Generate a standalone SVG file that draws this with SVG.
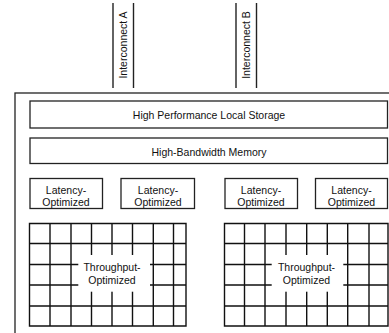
<svg xmlns="http://www.w3.org/2000/svg" width="389" height="333" viewBox="0 0 389 333">
<style>
.b{fill:#fff;stroke:#222;stroke-width:1.3}
.g{fill:none;stroke:#111;stroke-width:1.4}
.l{stroke:#222;stroke-width:1.4}
.t{font-family:"Liberation Sans",Arial,sans-serif;font-size:10.5px;fill:#111;text-anchor:middle}
</style>
<rect width="389" height="333" fill="#fff"/>
<g id="outer"><rect class="b" x="15" y="93" width="390" height="260"/></g>
<g id="connectors">
<line class="l" x1="113" y1="3" x2="113" y2="88"/>
<line class="l" x1="133.5" y1="3" x2="133.5" y2="88"/>
<line class="l" x1="236" y1="3" x2="236" y2="88"/>
<line class="l" x1="256.5" y1="3" x2="256.5" y2="88"/>
</g>
<g id="interconnectA"><text class="t" transform="translate(127,45) rotate(-90)">Interconnect A</text></g>
<g id="interconnectB"><text class="t" transform="translate(250,45) rotate(-90)">Interconnect B</text></g>
<g id="storage"><rect class="b" x="30" y="101" width="357.5" height="27"/><text class="t" x="209" y="119">High Performance Local Storage</text></g>
<g id="hbm"><rect class="b" x="30" y="138" width="357.5" height="25.5"/><text class="t" x="209" y="156">High-Bandwidth Memory</text></g>
<g id="lat1"><rect class="b" x="30" y="178.5" width="72.5" height="30"/><text class="t" x="66" y="193.5">Latency-</text><text class="t" x="66" y="205.5">Optimized</text></g>
<g id="lat2"><rect class="b" x="121" y="178.5" width="73.5" height="30"/><text class="t" x="158" y="193.5">Latency-</text><text class="t" x="158" y="205.5">Optimized</text></g>
<g id="lat3"><rect class="b" x="225" y="178.5" width="72.5" height="30"/><text class="t" x="261" y="193.5">Latency-</text><text class="t" x="261" y="205.5">Optimized</text></g>
<g id="lat4"><rect class="b" x="315.5" y="178.5" width="72" height="30"/><text class="t" x="351.5" y="193.5">Latency-</text><text class="t" x="351.5" y="205.5">Optimized</text></g>
<g id="tp1">
<path class="g" d="M29.5 223.5H186V326H29.5Z M29.5 243.5H186 M29.5 264.5H186 M29.5 285H186 M29.5 306H186 M50 223.5V326 M71 223.5V326 M91.5 223.5V326 M112 223.5V326 M132.5 223.5V326 M153.3 223.5V326 M173.5 223.5V326"/>
<rect x="78.3" y="255" width="71.7" height="36.7" fill="#fff"/>
<text class="t" x="112" y="271">Throughput-</text><text class="t" x="112" y="284">Optimized</text>
</g>
<g id="tp2">
<path class="g" d="M224.5 223.5H388V326H224.5Z M224.5 243.5H388 M224.5 264.5H388 M224.5 285H388 M224.5 306H388 M244.5 223.5V326 M265 223.5V326 M286 223.5V326 M306.7 223.5V326 M327.3 223.5V326 M347.7 223.5V326 M369 223.5V326"/>
<rect x="271.7" y="255" width="71.6" height="36.7" fill="#fff"/>
<text class="t" x="306.5" y="271">Throughput-</text><text class="t" x="306.5" y="284">Optimized</text>
</g>
</svg>
